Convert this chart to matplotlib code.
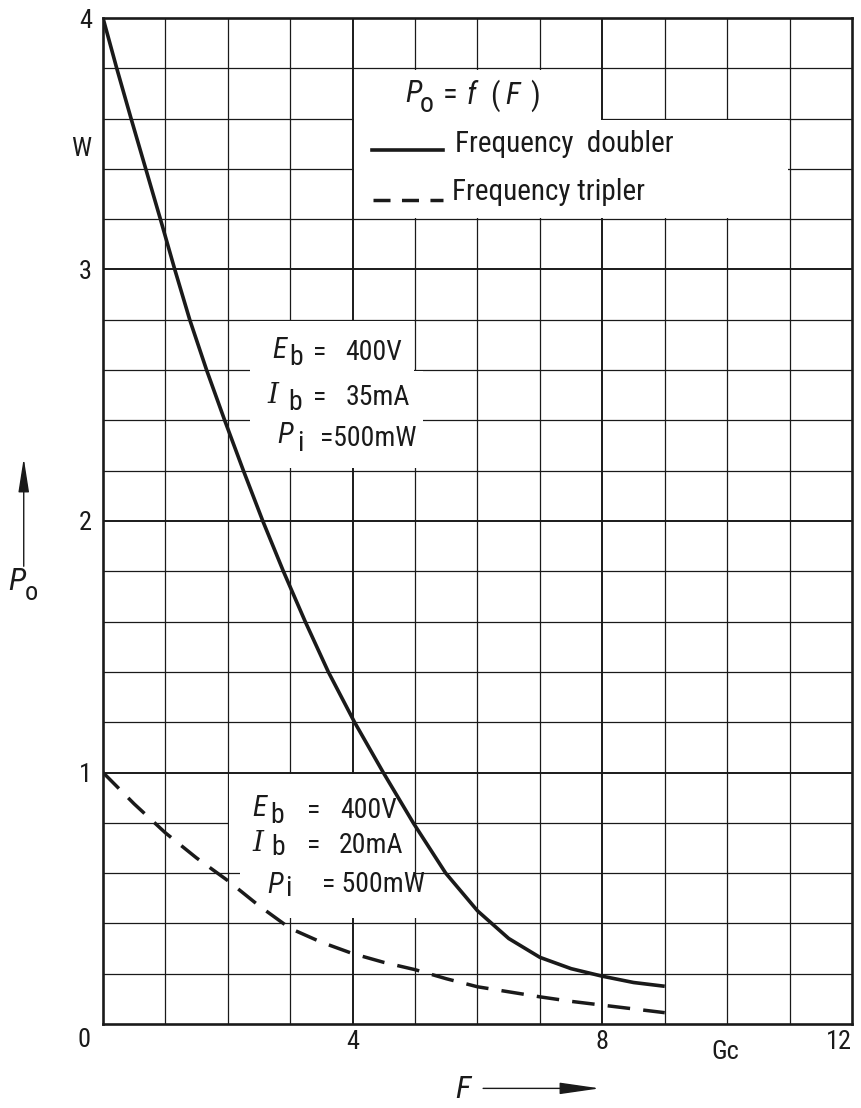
import numpy as np
import matplotlib.pyplot as plt
from matplotlib.patches import Polygon

# output power vs frequency (GHz), read curve by curve
F_doubler = [0.0, 0.22, 0.45, 0.685, 0.92, 1.15, 1.39, 1.66, 1.95, 2.25, 2.56, 2.89,
             3.24, 3.61, 4.03, 4.49, 4.97, 5.49, 6.0, 6.5, 7.0, 7.5, 8.0, 8.5, 9.0]
P_doubler = [4.0, 3.8, 3.6, 3.4, 3.2, 3.0, 2.8, 2.6, 2.4, 2.2, 2.0, 1.8,
             1.6, 1.4, 1.2, 1.0, 0.8, 0.6, 0.45, 0.34, 0.265, 0.22, 0.19, 0.165, 0.15]

F_tripler = [0.0, 0.5, 1.0, 1.5, 2.0, 2.5, 3.0, 3.5, 4.0, 4.5, 5.0, 5.5, 6.0, 6.5,
             7.0, 7.5, 8.0, 8.5, 9.0]
P_tripler = [1.0, 0.875, 0.76, 0.66, 0.57, 0.47, 0.38, 0.325, 0.28, 0.245, 0.216, 0.18,
             0.148, 0.128, 0.108, 0.09, 0.075, 0.06, 0.045]

xticks = [4, 8, 12]
xtick_labels = ['4', '8', '12']
yticks = [1, 2, 3, 4]
ytick_labels = ['1', '2', '3', '4']

ink = '#1a1a1a'
font = ['Roboto Condensed', 'Roboto', 'DejaVu Sans']
plt.rcParams['font.family'] = font

fig = plt.figure(figsize=(8.62, 11.08), dpi=100)
ax = fig.add_axes([103/862, 1 - 1024/1108, 749/862, 1006/1108])
ax.set_xlim(0, 12)
ax.set_ylim(0, 4)

# grid paper
for xv in range(1, 12):
    ax.axvline(xv, color=ink, lw=1.4 if xv % 4 == 0 else 0.9, zorder=1)
for yv in np.arange(0.2, 4.0, 0.2):
    major = abs(yv - round(yv)) < 1e-6
    ax.axhline(yv, color=ink, lw=1.4 if major else 0.9, zorder=1)

for s in ax.spines.values():
    s.set_linewidth(1.9)
    s.set_color(ink)

# white areas behind the text blocks
blank = [
    [(4.02, 3.205), (10.98, 3.205), (10.98, 3.595), (7.98, 3.595), (7.98, 3.795), (4.02, 3.795)],
    [(2.36, 2.21), (5.12, 2.21), (5.12, 2.595), (4.98, 2.595), (4.98, 2.795), (2.36, 2.795)],
    [(2.02, 0.995), (4.98, 0.995), (4.98, 0.59), (5.4, 0.59), (5.4, 0.42), (2.2, 0.42),
     (2.2, 0.605), (2.02, 0.605)],
]
for pts in blank:
    ax.add_patch(Polygon(pts, closed=True, facecolor='white', edgecolor='none', zorder=2))

ax.plot(F_doubler, P_doubler, color=ink, lw=2.6, zorder=4, solid_capstyle='butt',
        solid_joinstyle='round')
ax.plot(F_tripler, P_tripler, color=ink, lw=2.5, zorder=4, dashes=(6.5, 3.8),
        dash_capstyle='butt')

ax.set_xticks(xticks)
ax.set_xticklabels(xtick_labels)
ax.set_yticks(yticks)
ax.set_yticklabels(ytick_labels)
ax.tick_params(length=0, labelsize=19, colors=ink)
ax.tick_params(axis='x', pad=4)
ax.tick_params(axis='y', pad=8)
ax.get_xticklabels()[-1].set_ha('right')
ax.text(-0.3, -0.064, '0', fontsize=19, color=ink, ha='center', va='center')
ax.text(-0.35, 3.48, 'W', fontsize=19, color=ink, ha='center', va='center')
ax.text(9.97, -0.11, 'Gc', fontsize=19, color=ink, ha='center', va='center',
        clip_on=False)


def put(x, y, s, size=19, italic=False, fam=None):
    ax.text(x, y, s, fontsize=size, color=ink, ha='left', va='center',
            style='italic' if italic else 'normal', family=fam or font,
            zorder=5, clip_on=False)


# legend block
put(4.84, 3.70, 'P', 22, True)
put(5.08, 3.655, 'o', 20)
put(5.45, 3.69, '=', 22)
put(5.83, 3.69, 'f', 22, True)
put(6.2, 3.69, '(', 22)
put(6.44, 3.69, 'F', 22, True)
put(6.84, 3.69, ')', 22)
ax.plot([4.31, 5.45], [3.475, 3.475], color=ink, lw=2.6, zorder=4)
put(5.64, 3.50, 'Frequency  doubler', 21)
ax.plot([4.33, 5.45], [3.276, 3.276], color=ink, lw=2.5, zorder=4, dashes=(4.9, 3.3),
        dash_capstyle='butt')
put(5.59, 3.31, 'Frequency tripler', 21)

serif = ['DejaVu Serif']

# operating point, frequency doubler
put(2.71, 2.68, 'E', 21, True)
put(2.98, 2.65, 'b', 20)
put(3.37, 2.67, '=', 20)
put(3.88, 2.67, '400V', 20)
put(2.63, 2.50, 'I', 20, True, serif)
put(2.97, 2.47, 'b', 20)
put(3.37, 2.49, '=', 20)
put(3.88, 2.49, '35mA', 20)
put(2.79, 2.34, 'P', 21, True)
put(3.11, 2.31, 'i', 20)
put(3.48, 2.33, '=500mW', 20)

# operating point, frequency tripler
put(2.39, 0.86, 'E', 21, True)
put(2.68, 0.83, 'b', 20)
put(3.27, 0.85, '=', 20)
put(3.80, 0.85, '400V', 20)
put(2.40, 0.716, 'I', 20, True, serif)
put(2.70, 0.70, 'b', 20)
put(3.27, 0.71, '=', 20)
put(3.77, 0.71, '20mA', 20)
put(2.63, 0.553, 'P', 21, True)
put(2.92, 0.54, 'i', 20)
put(3.51, 0.553, '= 500mW', 20)

# axis names with arrows
ax.text(5.77, -0.26, 'F', fontsize=23, style='italic', color=ink, ha='center',
        va='center', clip_on=False)
ax.annotate('', xy=(7.96, -0.256), xytext=(6.09, -0.256), annotation_clip=False,
            arrowprops=dict(arrowstyle='-|>,head_length=2.5,head_width=0.36',
                            mutation_scale=10, lw=1.0, color=ink, shrinkA=0, shrinkB=0))
ax.text(-1.38, 1.76, 'P', fontsize=23, style='italic', color=ink, ha='center',
        va='center', clip_on=False)
ax.text(-1.15, 1.715, 'o', fontsize=19, color=ink, ha='center', va='center', clip_on=False)
ax.annotate('', xy=(-1.27, 2.25), xytext=(-1.27, 1.82), annotation_clip=False,
            arrowprops=dict(arrowstyle='-|>,head_length=2.1,head_width=0.33',
                            mutation_scale=10, lw=1.0, color=ink, shrinkA=0, shrinkB=0))

fig.savefig('out.png', dpi=100)
